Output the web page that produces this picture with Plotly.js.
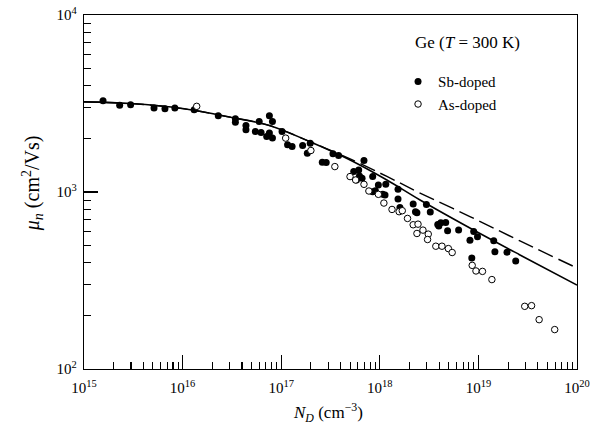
<!DOCTYPE html>
<html>
<head>
<meta charset="utf-8">
<script src="https://cdn.plot.ly/plotly-3.0.1.min.js"></script>
<style>html,body{margin:0;padding:0;background:#fff;}#chart{width:594px;height:424px;}</style>
</head>
<body>
<div id="chart"></div>
<script>
// Sb-doped (filled circles)
const sbN = [1.56e15,2.30e15,2.97e15,5.13e15,6.62e15,8.34e15,1.31e16,2.30e16,3.43e16,3.43e16,4.39e16,4.39e16,5.47e16,6.25e16,5.98e16,7.59e16,8.15e16,7.13e16,7.59e16,8.15e16,1.02e17,1.16e17,1.29e17,1.65e17,1.84e17,1.97e17,2.61e17,2.86e17,3.35e17,3.82e17,5.44e17,6.11e17,6.22e17,5.80e17,6.61e17,6.91e17,8.47e17,8.47e17,9.01e17,9.67e17,1.07e18,1.13e18,1.15e18,1.53e18,1.53e18,1.60e18,2.18e18,2.30e18,2.38e18,2.97e18,3.25e18,3.87e18,4.16e18,4.66e18,4.87e18,3.97e18,6.30e18,8.21e18,8.96e18,9.79e18,8.57e18,1.43e19,1.47e19,1.95e19,2.39e19];
const sbMu = [3281,3088,3114,2982,2956,2982,2917,2698,2594,2474,2378,2247,2198,2170,2505,2698,2505,2060,2151,2016,2198,1847,1807,1831,1657,1888,1473,1467,1643,1607,1304,1333,1233,1169,1195,1505,1222,1004,1018,1096,970,962,1105,1035,913,818,855,774,764,851,770,656,670,673,604,642,609,534,598,558,424,530,459,457,408];
// As-doped (open circles)
const asN = [1.39e16,1.11e17,2.00e17,3.50e17,4.99e17,5.69e17,6.91e17,7.75e17,9.67e17,1.10e18,1.33e18,1.57e18,1.69e18,1.91e18,2.18e18,2.44e18,2.38e18,2.74e18,3.10e18,3.05e18,3.70e18,4.27e18,4.96e18,5.42e18,8.65e18,9.45e18,1.10e19,1.37e19,2.95e19,3.46e19,4.13e19,5.94e19];
const asMu = [3048,2016,1716,1392,1222,1169,1105,1013,970,866,797,774,784,709,653,658,583,609,578,539,494,494,479,455,385,358,356,320,226,228,190,167];
// Solid curve
const solidN = [1e15,3e15,1e16,3e16,7.7e16,1.96e17,5e17,1.18e18,2.56e18,8.2e18,2.64e19,1e20];
const solidMu = [3230,3160,2960,2650,2370,1924,1517,1169,901,626,441,298];
// Dashed curve
const dashN = [1e15,3e15,1e16,3e16,7.7e16,1.96e17,5e17,1.18e18,2.56e18,8.2e18,2.64e19,1e20];
const dashMu = [3230,3160,2960,2650,2370,1924,1537,1224,987,727,529,372];
// Tick labels
const xTickVals = [1e15,1e16,1e17,1e18,1e19,1e20];
const xTickText = ['10<sup>15</sup>','10<sup>16</sup>','10<sup>17</sup>','10<sup>18</sup>','10<sup>19</sup>','10<sup>20</sup>'];
const yTickVals = [1e2,1e3,1e4];
const yTickText = ['10<sup>2</sup>','10<sup>3</sup>','10<sup>4</sup>'];

function minorVals(lo, hi) {
  const out = [];
  for (let e = lo; e < hi; e++) for (let m = 2; m <= 9; m++) out.push(m * Math.pow(10, e));
  return out;
}

const FONT = 'Liberation Serif, Times New Roman, serif';

const traces = [
  {x: dashN, y: dashMu, mode: 'lines', line: {color: '#000', width: 1.4, dash: '16px,6px', shape: 'spline'}, showlegend: false, hoverinfo: 'skip'},
  {x: solidN, y: solidMu, mode: 'lines', line: {color: '#000', width: 1.6, shape: 'spline'}, showlegend: false, hoverinfo: 'skip'},
  {x: sbN, y: sbMu, mode: 'markers', name: 'Sb-doped', marker: {symbol: 'circle', size: 7, color: '#000'}},
  {x: asN, y: asMu, mode: 'markers', name: 'As-doped', marker: {symbol: 'circle', size: 6.5, color: '#fff', line: {color: '#000', width: 1}}},
  // invisible helper trace that activates the minor-tick overlay axes
  {x: [1e15], y: [1e2], xaxis: 'x2', yaxis: 'y2', mode: 'markers', marker: {opacity: 0}, showlegend: false, hoverinfo: 'skip'}
];

const layout = {
  width: 594, height: 424,
  margin: {l: 84, r: 17, t: 15, b: 55},
  paper_bgcolor: '#fff', plot_bgcolor: '#fff',
  font: {family: FONT, color: '#000'},
  showlegend: true,
  xaxis: {
    type: 'log', range: [15, 20], showgrid: false, zeroline: false,
    showline: true, linecolor: '#000', linewidth: 1.3, mirror: true,
    tickmode: 'array', tickvals: xTickVals, ticktext: xTickText,
    ticks: 'inside', ticklen: 14, tickwidth: 1.1, tickcolor: '#000',
    tickfont: {family: FONT, size: 15, color: '#000'}, ticklabelstandoff: 5
  },
  yaxis: {
    type: 'log', range: [2, 4], showgrid: false, zeroline: false,
    showline: true, linecolor: '#000', linewidth: 1.3, mirror: true,
    tickmode: 'array', tickvals: yTickVals, ticktext: yTickText,
    ticks: 'inside', ticklen: 14, tickwidth: 1.1, tickcolor: '#000',
    tickfont: {family: FONT, size: 15, color: '#000'}, ticklabelstandoff: 3
  },
  xaxis2: {
    type: 'log', range: [15, 20], overlaying: 'x', side: 'bottom', anchor: 'y2',
    showgrid: false, zeroline: false, showline: false, showticklabels: false,
    tickmode: 'array', tickvals: minorVals(15, 20),
    ticks: 'inside', ticklen: 7, tickwidth: 1.1, tickcolor: '#000'
  },
  yaxis2: {
    type: 'log', range: [2, 4], overlaying: 'y', side: 'left', anchor: 'x2',
    showgrid: false, zeroline: false, showline: false, showticklabels: false,
    tickmode: 'array', tickvals: minorVals(2, 4),
    ticks: 'inside', ticklen: 7, tickwidth: 1.1, tickcolor: '#000'
  },
  legend: {x: 0.637, y: 0.858, xanchor: 'left', yanchor: 'top', bgcolor: 'rgba(0,0,0,0)', font: {family: FONT, size: 15, color: '#000'}, tracegroupgap: 0},
  annotations: [
    {xref: 'paper', yref: 'paper', x: 0.667, y: 0.922, xanchor: 'left', yanchor: 'middle', showarrow: false,
     text: 'Ge (<i>T</i> = 300 K)', font: {family: FONT, size: 17, color: '#000'}},
    {xref: 'paper', yref: 'paper', x: 0.495, y: -0.1215, xanchor: 'center', yanchor: 'middle', showarrow: false,
     text: '<i>N</i><sub><i>D</i></sub> (cm<sup>\u22123</sup>)', font: {family: FONT, size: 17, color: '#000'}},
    {xref: 'paper', yref: 'paper', x: -0.1034, y: 0.525, xanchor: 'center', yanchor: 'middle', showarrow: false, textangle: -90,
     text: '<i>\u03bc<sub>n</sub></i> (cm<sup>2</sup>/Vs)', font: {family: FONT, size: 20, color: '#000'}}
  ]
};

Plotly.newPlot('chart', traces, layout, {staticPlot: true, displayModeBar: false});
</script>
</body>
</html>
